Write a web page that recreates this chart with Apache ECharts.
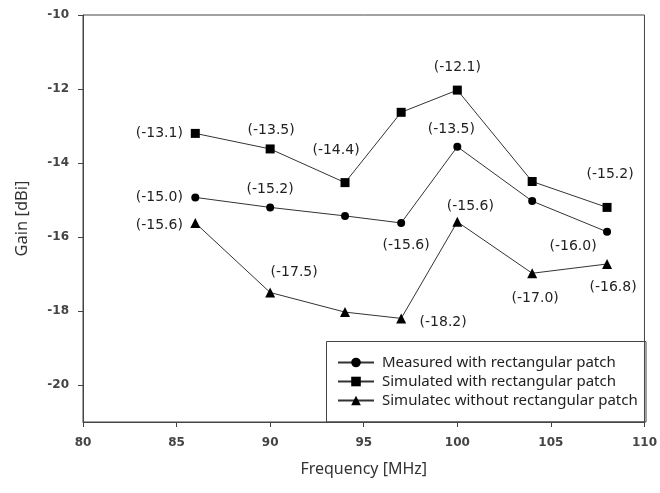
<!DOCTYPE html>
<html>
<head>
<meta charset="utf-8">
<script src="https://cdn.jsdelivr.net/npm/echarts@6/dist/echarts.min.js"></script>
<style>
  html, body { margin: 0; padding: 0; background: #fff; }
  #chart { width: 660px; height: 493px; }
</style>
</head>
<body>
<div id="chart"></div>
<script>
'use strict';
// values
const freq = [86, 90, 94, 97, 100, 104, 108];
const measured = [-14.93, -15.2, -15.43, -15.62, -13.56, -15.03, -15.86];
const simWith = [-13.2, -13.62, -14.53, -12.63, -12.03, -14.5, -15.2];
const simWithout = [-15.62, -17.5, -18.03, -18.2, -15.59, -16.98, -16.73];

const measuredLabels = ['(-15.0)', '(-15.2)', '', '(-15.6)', '(-13.5)', '', '(-16.0)'];
const simWithLabels = ['(-13.1)', '(-13.5)', '(-14.4)', '', '(-12.1)', '', '(-15.2)'];
const simWithoutLabels = ['(-15.6)', '(-17.5)', '', '(-18.2)', '(-15.6)', '(-17.0)', '(-16.8)'];

const yTicks = [-20, -18, -16, -14, -12, -10];
const seriesNames = [
  'Measured with rectangular patch',
  'Simulated with rectangular patch',
  'Simulatec without rectangular patch'
];

// where each value label sits relative to its marker (px)
const measuredOffsets = [[-36, 0], [0, -18], null, [5, 22], [-6, -17], null, [-34, 15]];
const simWithOffsets = [[-36, 0], [1, -19], [-9, -32], null, [0, -23], null, [3, -33]];
const simWithoutOffsets = [[-36, 2], [24, -20], null, [42, 4], [13, -15], [3, 25], [6, 23]];

const labelFont = {
  fontFamily: 'DejaVu Sans, sans-serif',
  fontSize: 14,
  color: '#222'
};
const tickFont = {
  fontFamily: 'DejaVu Sans',
  fontSize: 12,
  fontWeight: 'bold',
  color: '#444'
};

function buildData(values, labels, offsets) {
  return values.map((v, i) => {
    const item = {value: [freq[i], v]};
    if (labels[i]) {
      item.label = Object.assign({
        show: true,
        position: 'inside',
        align: 'center',
        verticalAlign: 'middle',
        offset: offsets[i],
        formatter: labels[i]
      }, labelFont);
    }
    return item;
  });
}

function lineSeries(name, symbol, size, values, labels, offsets) {
  return {
    name: name,
    type: 'line',
    symbol: symbol,
    symbolSize: size,
    showAllSymbol: true,
    lineStyle: {color: '#333', width: 1},
    itemStyle: {color: '#000'},
    label: {show: false},
    emphasis: {disabled: true},
    data: buildData(values, labels, offsets)
  };
}

const chart = echarts.init(document.getElementById('chart'));
chart.setOption({
  animation: false,
  grid: {
    left: 83, right: 14, top: 15, bottom: 71,
    show: true, borderColor: '#444', borderWidth: 1
  },
  xAxis: {
    type: 'value',
    min: 80, max: 110, interval: 5,
    name: 'Frequency [MHz]',
    nameLocation: 'middle',
    nameGap: 39,
    nameTextStyle: {fontFamily: 'Noto Sans', fontSize: 16, color: '#333'},
    axisLine: {lineStyle: {color: '#444'}},
    axisTick: {show: true, length: 5, lineStyle: {color: '#444'}},
    axisLabel: Object.assign({margin: 15}, tickFont),
    splitLine: {show: false}
  },
  yAxis: {
    type: 'value',
    min: -21, max: -10, interval: 1,
    name: 'Gain [dBi]',
    nameLocation: 'middle',
    nameGap: 52,
    nameTextStyle: {fontFamily: 'Noto Sans', fontSize: 16.5, color: '#333'},
    axisLine: {show: true, lineStyle: {color: '#444'}},
    axisTick: {show: true, length: 5, customValues: yTicks, lineStyle: {color: '#444'}},
    axisLabel: Object.assign({margin: 14, customValues: yTicks}, tickFont),
    splitLine: {show: false}
  },
  legend: {
    orient: 'vertical',
    left: 337,
    top: 355,
    itemWidth: 36,
    itemHeight: 12,
    itemGap: 4,
    padding: 0,
    selectedMode: false,
    textStyle: {
      fontFamily: 'Noto Sans', fontSize: 15, lineHeight: 15, color: '#222',
      padding: [0, 0, 0, 3]
    },
    data: seriesNames
  },
  graphic: [{
    type: 'rect',
    z: 10,
    shape: {x: 326.5, y: 341.5, width: 319.5, height: 80.5},
    style: {fill: 'none', stroke: '#444', lineWidth: 1}
  }],
  series: [
    lineSeries(seriesNames[0], 'circle', 8, measured, measuredLabels, measuredOffsets),
    lineSeries(seriesNames[1], 'rect', 9, simWith, simWithLabels, simWithOffsets),
    lineSeries(seriesNames[2], 'triangle', 10, simWithout, simWithoutLabels, simWithoutOffsets)
  ]
});
</script>
</body>
</html>
